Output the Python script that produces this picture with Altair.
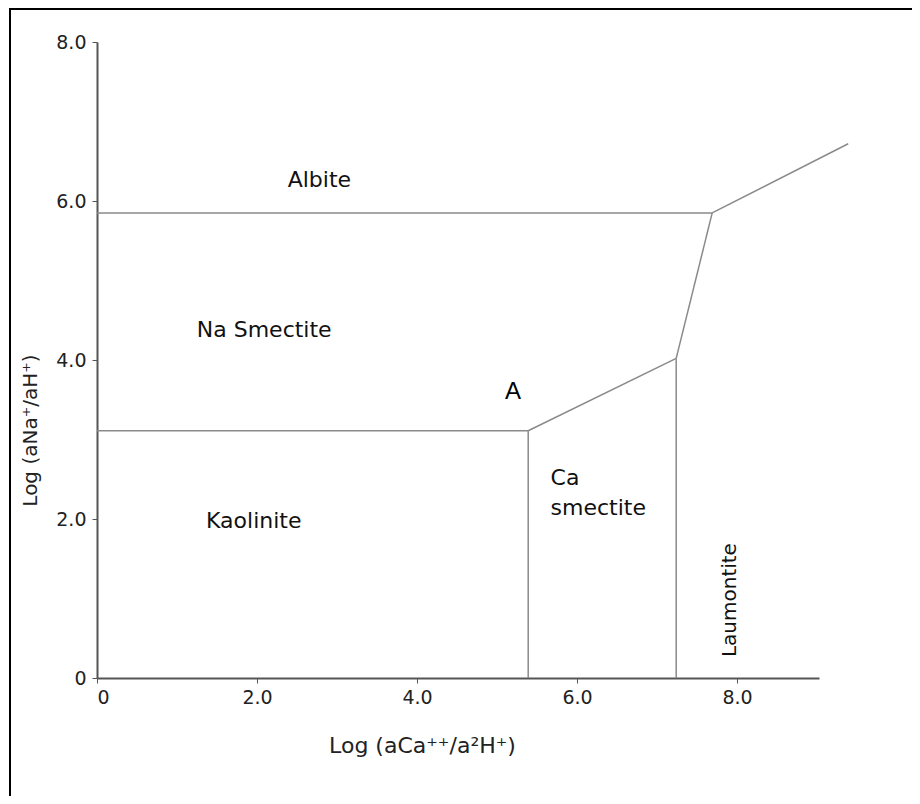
import altair as alt
import pandas as pd

# Phase-boundary segments (log activity ratios)
seg_x1 = [0.00, 7.69, 7.69, 7.24, 0.00, 5.39, 7.24]
seg_y1 = [5.85, 5.85, 5.85, 4.02, 3.11, 3.11, 4.02]
seg_x2 = [7.69, 9.39, 7.24, 5.39, 5.39, 5.39, 7.24]
seg_y2 = [5.85, 6.72, 4.02, 3.11, 3.11, 0.00, 0.00]

# Field labels
lab_text = ["Albite", "Na Smectite", "Kaolinite"]
lab_x = [2.78, 2.09, 1.96]
lab_y = [6.26, 4.38, 1.97]

ca_text = ["Ca\nsmectite"]
ca_x = [5.67]
ca_y = [2.51]

lau_text = ["Laumontite"]
lau_x = [7.91]
lau_y = [0.98]

a_text = ["A"]
a_x = [5.2]
a_y = [3.6]

x_ticks = [0, 2, 4, 6, 8]
y_ticks = [0, 2, 4, 6, 8]

FONT = "DejaVu Sans"

segs = pd.DataFrame({"x": seg_x1, "y": seg_y1, "x2": seg_x2, "y2": seg_y2})
labs = pd.DataFrame({"t": lab_text, "x": lab_x, "y": lab_y})
cas = pd.DataFrame({"t": ca_text, "x": ca_x, "y": ca_y})
laus = pd.DataFrame({"t": lau_text, "x": lau_x, "y": lau_y})
As = pd.DataFrame({"t": a_text, "x": a_x, "y": a_y})

lab_expr = "datum.value == 0 ? '0' : format(datum.value, '.1f')"

xs = alt.Scale(domain=[0, 9.025], nice=False, zero=False)
ys = alt.Scale(domain=[0, 8], nice=False, zero=False)

xaxis = alt.Axis(values=x_ticks, labelExpr=lab_expr, title="Log (aCa⁺⁺/a²H⁺)",
                 grid=False, domainColor="#555555", domainWidth=2, tickColor="#555555",
                 tickSize=5, labelFont=FONT, labelFontSize=19, labelColor="#222222",
                 labelPadding=5, titleFont=FONT, titleFontSize=22, titleFontWeight="normal",
                 titleColor="#222222", titleX=325, titleY=57, titleAnchor="middle")
yaxis = alt.Axis(values=y_ticks, labelExpr=lab_expr, title="Log (aNa⁺/aH⁺)",
                 grid=False, domainColor="#555555", domainWidth=2, tickColor="#555555",
                 tickSize=5, labelFont=FONT, labelFontSize=19, labelColor="#222222",
                 labelPadding=6, titleFont=FONT, titleFontSize=20, titleFontWeight="normal",
                 titleColor="#222222", titleX=-57, titleY=388, titleAngle=270,
                 titleAlign="center", titleBaseline="bottom")

lines = alt.Chart(segs).mark_rule(color="#8a8a8a", strokeWidth=1.5).encode(
    x=alt.X("x:Q", scale=xs, axis=xaxis),
    y=alt.Y("y:Q", scale=ys, axis=yaxis),
    x2="x2:Q", y2="y2:Q")

labels = alt.Chart(labs).mark_text(font=FONT, fontSize=22, color="#111111").encode(
    x=alt.X("x:Q", scale=xs), y=alt.Y("y:Q", scale=ys), text="t:N")

ca = alt.Chart(cas).mark_text(font=FONT, fontSize=22, color="#111111", align="left",
                              baseline="middle", lineBreak="\n", lineHeight=30).encode(
    x=alt.X("x:Q", scale=xs), y=alt.Y("y:Q", scale=ys), text="t:N")

lau = alt.Chart(laus).mark_text(font=FONT, fontSize=20, color="#111111", angle=270).encode(
    x=alt.X("x:Q", scale=xs), y=alt.Y("y:Q", scale=ys), text="t:N")

a = alt.Chart(As).mark_text(font="Liberation Sans", fontSize=24, color="#000000").encode(
    x=alt.X("x:Q", scale=xs), y=alt.Y("y:Q", scale=ys), text="t:N")

frame_top = alt.Chart(pd.DataFrame({"k": [0]})).mark_rule(color="#000000", strokeWidth=2).encode(
    x=alt.value(-88), x2=alt.value(830), y=alt.value(-33))
frame_left = alt.Chart(pd.DataFrame({"k": [0]})).mark_rule(color="#000000", strokeWidth=2).encode(
    x=alt.value(-87), y=alt.value(-34), y2=alt.value(770))

chart = alt.layer(lines, labels, ca, lau, a, frame_top, frame_left).properties(
    width=722, height=636,
    autosize=alt.AutoSizeParams(type="none"),
    padding={"left": 89, "top": 34, "right": 93, "bottom": 118},
    background="white",
).configure_view(stroke=None)

chart.save("out.html", embed_options={"renderer": "svg", "actions": False})
